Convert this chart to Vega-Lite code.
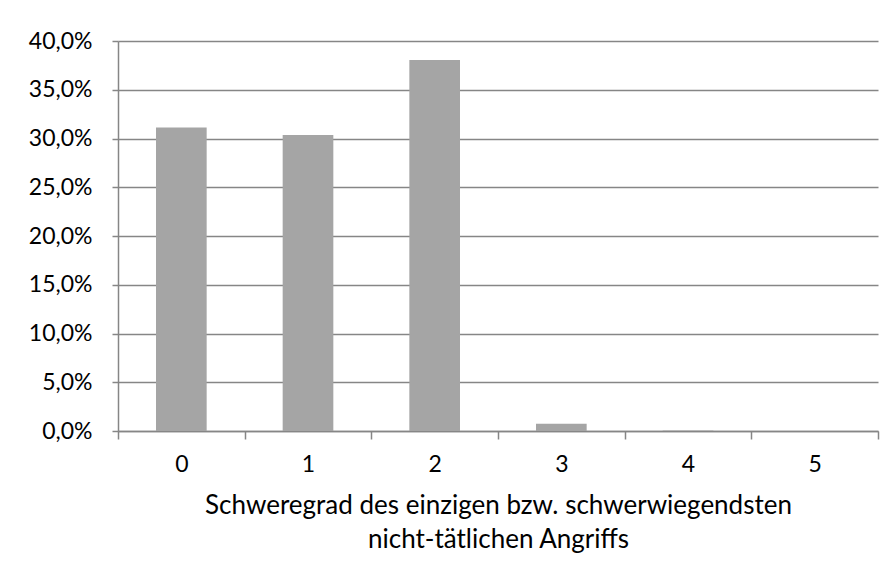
{
  "$schema": "https://vega.github.io/schema/vega-lite/v6.json",
  "width": 760,
  "height": 390,
  "autosize": {"type": "none"},
  "padding": {"left": 118, "top": 41, "right": 14, "bottom": 139},
  "background": "white",
  "config": {
    "locale": {"number": {"decimal": ",", "thousands": ".", "grouping": [3], "currency": ["", " €"]}},
    "font": "Lato",
    "view": {"stroke": null}
  },
  "data": {"values": [
    {"grad": "0", "anteil": 0.3112},
    {"grad": "1", "anteil": 0.3035},
    {"grad": "2", "anteil": 0.3805},
    {"grad": "3", "anteil": 0.0075},
    {"grad": "4", "anteil": 0.0005},
    {"grad": "5", "anteil": 0.0}
  ]},
  "mark": {"type": "bar", "color": "#A5A5A5", "width": {"band": 0.4}},
  "encoding": {
    "x": {
      "field": "grad", "type": "nominal",
      "scale": {"paddingInner": 0, "paddingOuter": 0},
      "axis": {
        "title": ["Schweregrad des einzigen bzw. schwerwiegendsten", "nicht-tätlichen Angriffs"],
        "titleFontSize": 26, "titleFontWeight": "normal", "titleColor": "#000000",
        "titleLineHeight": 34, "titlePadding": 16,
        "labelAngle": 0, "labelFontSize": 23, "labelColor": "#000000", "labelPadding": 14,
        "tickBand": "extent", "tickSize": 8, "tickColor": "#868686", "tickWidth": 1.5,
        "domainColor": "#868686", "domainWidth": 1.5
      }
    },
    "y": {
      "field": "anteil", "type": "quantitative",
      "scale": {"domain": [0, 0.4]},
      "axis": {
        "title": null, "format": ".1%", "values": [0, 0.05, 0.1, 0.15, 0.2, 0.25, 0.3, 0.35, 0.4],
        "labelOverlap": false,
        "labelFontSize": 23, "labelColor": "#000000", "labelPadding": 20,
        "tickSize": 6, "tickColor": "#868686", "tickWidth": 1.5,
        "domainColor": "#868686", "domainWidth": 1.5,
        "gridColor": "#868686", "gridWidth": 1.5
      }
    }
  }
}
